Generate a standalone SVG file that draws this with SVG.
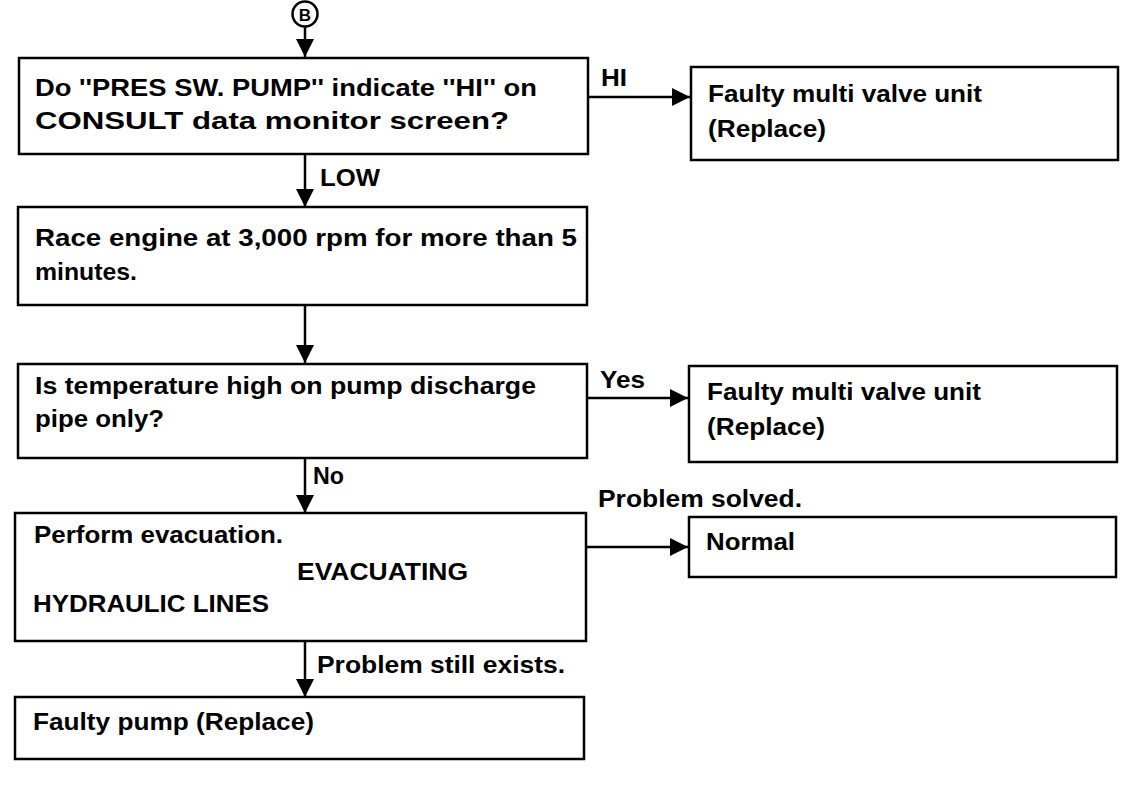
<svg xmlns="http://www.w3.org/2000/svg" width="1136" height="792" viewBox="0 0 1136 792">
<defs>
<marker id="ahv" viewBox="0 0 10 10" refX="10" refY="5" markerWidth="18" markerHeight="18" orient="auto" markerUnits="userSpaceOnUse">
<path d="M0,0 L10,5 L0,10 Z" fill="#000"/>
</marker>
</defs>
<style>
.box{fill:#fff;stroke:#000;stroke-width:2.5}
.t{font-family:"Liberation Sans",Arial,sans-serif;font-size:23px;font-weight:bold;fill:#000}
.c{stroke:#000;stroke-width:2.5;fill:none}
</style>
<rect width="1136" height="792" fill="#fff"/>
<g id="connectors">
<circle cx="305" cy="14" r="12.5" fill="#fff" stroke="#000" stroke-width="2.5"/>
<text x="305" y="20.5" text-anchor="middle" class="t" style="font-size:17px">B</text>
<line class="c" x1="305" y1="27" x2="305" y2="57" marker-end="url(#ahv)"/>
<line class="c" x1="305" y1="155" x2="305" y2="207" marker-end="url(#ahv)"/>
<line class="c" x1="305" y1="305" x2="305" y2="363" marker-end="url(#ahv)"/>
<line class="c" x1="305" y1="458" x2="305" y2="513" marker-end="url(#ahv)"/>
<line class="c" x1="305" y1="641" x2="305" y2="697" marker-end="url(#ahv)"/>
<line class="c" x1="588" y1="97" x2="690" y2="97" marker-end="url(#ahv)"/>
<line class="c" x1="587" y1="398" x2="688" y2="398" marker-end="url(#ahv)"/>
<line class="c" x1="586" y1="547" x2="688" y2="547" marker-end="url(#ahv)"/>
<text class="t" x="601" y="86" textLength="26" lengthAdjust="spacingAndGlyphs">HI</text>
<text class="t" x="320" y="186" textLength="60" lengthAdjust="spacingAndGlyphs">LOW</text>
<text class="t" x="600" y="388" textLength="45" lengthAdjust="spacingAndGlyphs">Yes</text>
<text class="t" x="313" y="484" textLength="31" lengthAdjust="spacingAndGlyphs">No</text>
<text class="t" x="598" y="507" textLength="204" lengthAdjust="spacingAndGlyphs">Problem solved.</text>
<text class="t" x="317" y="673" textLength="248" lengthAdjust="spacingAndGlyphs">Problem still exists.</text>
</g>
<g id="n1">
<rect class="box" x="19" y="58" width="569" height="96"/>
<text class="t" x="35" y="96" textLength="502" lengthAdjust="spacingAndGlyphs">Do ''PRES SW. PUMP'' indicate ''HI'' on</text>
<text class="t" x="35" y="129" textLength="474" lengthAdjust="spacingAndGlyphs">CONSULT data monitor screen?</text>
</g>
<g id="n2">
<rect class="box" x="691" y="67" width="427" height="93"/>
<text class="t" x="708" y="102" textLength="274" lengthAdjust="spacingAndGlyphs">Faulty multi valve unit</text>
<text class="t" x="708" y="137" textLength="118" lengthAdjust="spacingAndGlyphs">(Replace)</text>
</g>
<g id="n3">
<rect class="box" x="18" y="207" width="569" height="98"/>
<text class="t" x="35" y="246" textLength="542" lengthAdjust="spacingAndGlyphs">Race engine at 3,000 rpm for more than 5</text>
<text class="t" x="35" y="280" textLength="102" lengthAdjust="spacingAndGlyphs">minutes.</text>
</g>
<g id="n4">
<rect class="box" x="18" y="364" width="569" height="94"/>
<text class="t" x="35" y="394" textLength="501" lengthAdjust="spacingAndGlyphs">Is temperature high on pump discharge</text>
<text class="t" x="35" y="427" textLength="129" lengthAdjust="spacingAndGlyphs">pipe only?</text>
</g>
<g id="n5">
<rect class="box" x="689" y="366" width="428" height="96"/>
<text class="t" x="707" y="400" textLength="274" lengthAdjust="spacingAndGlyphs">Faulty multi valve unit</text>
<text class="t" x="707" y="435" textLength="118" lengthAdjust="spacingAndGlyphs">(Replace)</text>
</g>
<g id="n6">
<rect class="box" x="15" y="513" width="571" height="128"/>
<text class="t" x="34" y="543" textLength="249" lengthAdjust="spacingAndGlyphs">Perform evacuation.</text>
<text class="t" x="297" y="580" textLength="171" lengthAdjust="spacingAndGlyphs">EVACUATING</text>
<text class="t" x="33" y="612" textLength="236" lengthAdjust="spacingAndGlyphs">HYDRAULIC LINES</text>
</g>
<g id="n7">
<rect class="box" x="689" y="517" width="427" height="60"/>
<text class="t" x="706" y="550" textLength="89" lengthAdjust="spacingAndGlyphs">Normal</text>
</g>
<g id="n8">
<rect class="box" x="15" y="697" width="569" height="62"/>
<text class="t" x="33" y="730" textLength="281" lengthAdjust="spacingAndGlyphs">Faulty pump (Replace)</text>
</g>
</svg>
